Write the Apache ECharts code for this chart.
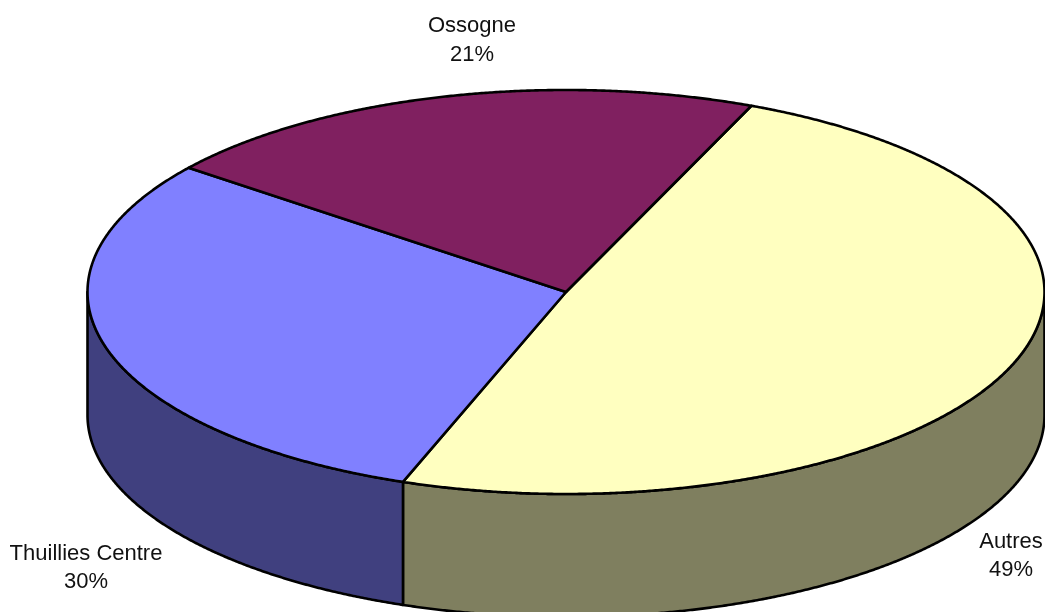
<!DOCTYPE html>
<html><head><meta charset="utf-8">
<style>html,body{margin:0;padding:0;background:#fff}#c{width:1045px;height:612px}</style>
<script src="https://cdn.jsdelivr.net/npm/echarts@6/dist/echarts.min.js"></script>
</head><body><div id="c"></div>
<script>
const categories = ['Autres', 'Thuillies Centre', 'Ossogne'];
const values = [49.2, 30.0, 20.8];
const topColors = ['#FFFFC0', '#8080FF', '#802060'];
const sideColors = ['#7F7F5F', '#40407F', '#401030'];

const CX = 566, CY = 292, RX = 478.5, RY = 202, DEPTH = 123, START = 67.2;
const total = values.reduce((a, b) => a + b, 0);
const ranges = [];
let acc = START;
values.forEach(v => { const next = acc - v / total * 360; ranges.push([acc, next]); acc = next; });

const pt = (deg, dy) => {
  const r = deg * Math.PI / 180;
  return [CX + RX * Math.cos(r), CY - RY * Math.sin(r) + (dy || 0)];
};
const arc = (a, b, dy) => {
  const pts = [], n = Math.max(2, Math.ceil(Math.abs(a - b) * 4));
  for (let i = 0; i <= n; i++) pts.push(pt(a + (b - a) * i / n, dy));
  return pts;
};
const lineStyle = { stroke: '#000', lineWidth: 2.6, lineJoin: 'round' };

const chart = echarts.init(document.getElementById('c'), null, { renderer: 'canvas' });
const labelPos = [
  { x: 1011, y: 555.7 },
  { x: 86, y: 567.7 },
  { x: 472, y: 40.2 }
];
chart.setOption({
  animation: false,
  series: [
    {
      type: 'custom', coordinateSystem: 'none', silent: true, z: 1,
      data: values,
      renderItem(p) {
        const i = p.dataIndex, [a, b] = ranges[i];
        // only the front half of the rim (angles -180..0) can be seen
        const from = Math.min(a, 0), to = Math.max(b, -180);
        if (from <= to) return { type: 'group', children: [] };
        const top = arc(from, to, 0), bottom = arc(to, from, DEPTH);
        return { type: 'polygon', shape: { points: top.concat(bottom) },
          style: Object.assign({ fill: sideColors[i] }, lineStyle) };
      }
    },
    {
      type: 'custom', coordinateSystem: 'none', silent: true, z: 2,
      data: values,
      renderItem(p) {
        const i = p.dataIndex, [a, b] = ranges[i];
        return { type: 'group', children: [
          { type: 'polygon', shape: { points: [[CX, CY]].concat(arc(a, b, 0)) },
            style: Object.assign({ fill: topColors[i] }, lineStyle) },
          { type: 'text', x: labelPos[i].x, y: labelPos[i].y,
            style: { text: categories[i] + '\n' + Math.round(values[i]) + '%', fill: '#111',
              font: '22px "Liberation Sans", Arial, sans-serif', lineHeight: 28.5,
              align: 'center', verticalAlign: 'middle' } }
        ] };
      }
    }
  ]
});
</script></body></html>
